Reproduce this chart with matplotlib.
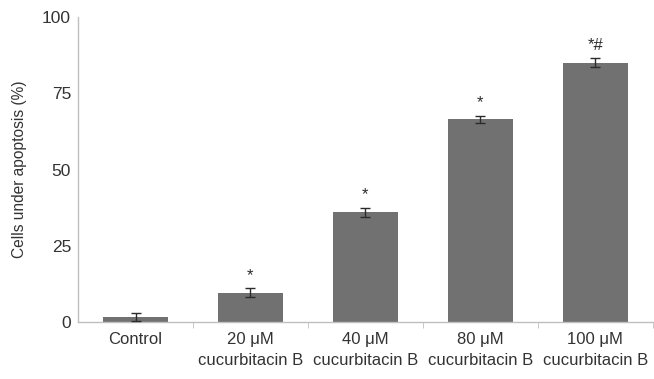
import numpy as np
import matplotlib.pyplot as plt

plt.rcParams['font.family'] = ['Liberation Sans', 'DejaVu Sans']

categories = ['Control', '20 \u03bcM\ncucurbitacin B', '40 \u03bcM\ncucurbitacin B',
              '80 \u03bcM\ncucurbitacin B', '100 \u03bcM\ncucurbitacin B']
values = [1.6, 9.6, 36.0, 66.5, 85.0]
errors = [1.4, 1.4, 1.5, 1.2, 1.4]
marks = ['', '*', '*', '*', '*#']

fig = plt.figure(figsize=(6.54, 3.79), dpi=100)
ax = fig.add_axes([0.1193, 0.1504, 0.879, 0.8047])

x = np.arange(len(categories))
ax.bar(x, values, width=0.565, color='#717171', zorder=2)
ax.errorbar(x, values, yerr=errors, fmt='none', ecolor='#2b2b2b',
            elinewidth=1.0, capsize=3.3, capthick=1.0, zorder=3)
for xi, v, e, m in zip(x, values, errors, marks):
    if m:
        ax.text(xi, v + e + 1.8, m, ha='center', va='bottom',
                fontsize=12, color='#2b2b2b')

ax.set_xlim(-0.5, len(categories) - 0.5)
ax.set_ylim(0, 100)
ax.set_yticks([0, 25, 50, 75, 100])
ax.set_xticks(x)
ax.set_xticklabels(categories, fontsize=12, color='#333333', linespacing=1.5)
ax.set_xticks(np.arange(len(categories)) + 0.5, minor=True)
ax.tick_params(axis='x', which='major', length=0, pad=7)
ax.tick_params(axis='x', which='minor', length=4, color='#bfbfbf')
ax.tick_params(axis='y', length=0, labelsize=12.5, labelcolor='#333333', pad=5)
ax.set_ylabel('Cells under apoptosis (%)', fontsize=11.2, color='#333333', labelpad=11)

for s in ['top', 'right']:
    ax.spines[s].set_visible(False)
for s in ['left', 'bottom']:
    ax.spines[s].set_color('#bfbfbf')
    ax.spines[s].set_linewidth(1.0)

fig.savefig('out.png', dpi=100)
